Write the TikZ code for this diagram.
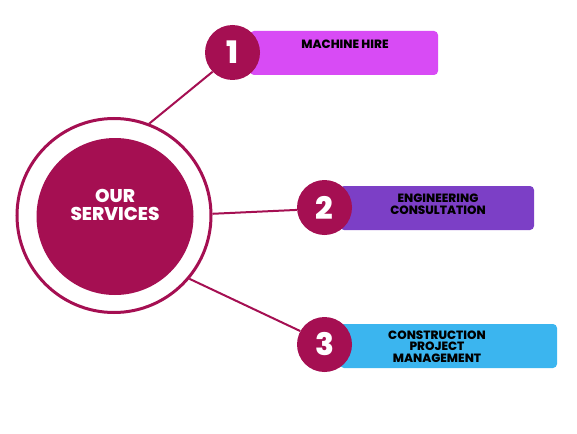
\documentclass[tikz,border=0pt]{standalone}
\usepackage{fontspec}
\setmainfont{Poppins}[BoldFont={Poppins ExtraBold}]
\definecolor{mag}{HTML}{A50F52}
\definecolor{boxa}{HTML}{D84BF5}
\definecolor{boxb}{HTML}{7C3FC6}
\definecolor{boxc}{HTML}{3BB5EF}
\tikzset{
  numc/.style={circle, fill=mag, minimum size=55pt, inner sep=0pt, text=white,
    font=\fontsize{31}{31}\selectfont\bfseries},
  boxn/.style={rectangle, rounded corners=4pt, minimum height=44pt, inner sep=0pt},
  lbl/.style={align=center, text=black, font=\fontsize{12}{11.5}\selectfont\bfseries, inner sep=0pt},
  conn/.style={draw=mag, line width=2pt},
}
\begin{document}
\begin{tikzpicture}[x=1pt,y=-1pt]
\useasboundingbox (0,0) rectangle (577,433);
% boxes
\node[boxn, fill=boxa, minimum width=188pt] (b1) at (344,53) {};
\node[boxn, fill=boxb, minimum width=194pt] (b2) at (437,208) {};
\node[boxn, fill=boxc, minimum width=217pt] (b3) at (448.5,346) {};
% central circle
\node[circle, draw=mag, line width=3pt, minimum size=194pt, inner sep=0pt] (ring) at (114,215.5) {};
\node[circle, fill=mag, minimum size=157pt, inner sep=0pt] (core) at (115,216.5) {};
\node[align=center, text=white, font=\fontsize{18.5}{18.5}\selectfont\bfseries, inner sep=0pt] (t0) at (115,205) {OUR\\SERVICES};
% number circles
\node[numc] (n1) at (232.5,52.5) {1};
\node[numc] (n2) at (324.5,207.5) {2};
\node[numc] (n3) at (324.5,344.5) {3};
% connectors
\draw[conn] (ring.69) -- (n1.224);
\draw[conn] (ring.1.5) -- (n2.185);
\draw[conn] (ring.-40) -- (n3.151);
% labels
\node[lbl] (t1) at (345,44) {MACHINE HIRE};
\node[lbl] (t2) at (438,204.5) {ENGINEERING\\CONSULTATION};
\node[lbl] (t3) at (437,346.5) {CONSTRUCTION\\PROJECT\\MANAGEMENT};
\end{tikzpicture}
\end{document}
